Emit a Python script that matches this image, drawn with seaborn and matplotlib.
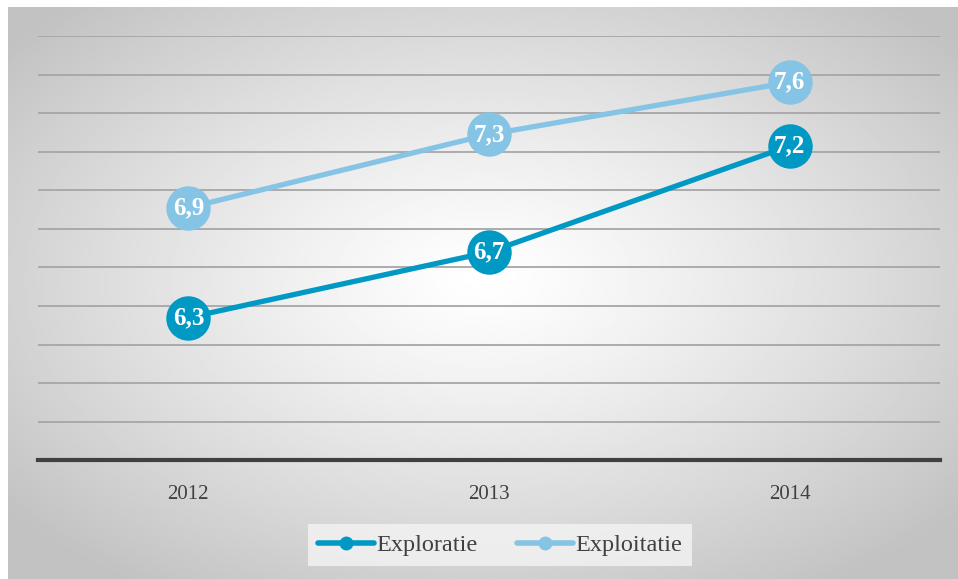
import matplotlib
matplotlib.use('Agg')
import matplotlib.pyplot as plt
from matplotlib.lines import Line2D
import numpy as np
import pandas as pd
import seaborn as sns

years = ['2012', '2013', '2014']
exploratie = [6.34, 6.68, 7.23]
exploitatie = [6.91, 7.29, 7.56]
series = ['Exploratie', 'Exploitatie']
colors = {'Exploratie': '#0099c4', 'Exploitatie': '#86c4e6'}

rows = []
for i, y in enumerate(years):
    rows.append([i, exploratie[i], 'Exploratie'])
    rows.append([i, exploitatie[i], 'Exploitatie'])
df = pd.DataFrame(rows, columns=['Jaar', 'Waarde', 'Reeks'])

sns.set_style('white')
plt.rcParams['font.family'] = ['Liberation Serif', 'DejaVu Serif']

fig = plt.figure(figsize=(9.58, 5.79), dpi=100)
fig.patch.set_facecolor('white')

# radial gray background
bg = fig.add_axes([8 / 958, 0, 950 / 958, 572 / 579], zorder=0)
gx, gy = np.meshgrid(np.linspace(-1, 1, 400), np.linspace(-1, 1, 300))
d = np.clip(np.sqrt(gx ** 2 + (gy + 0.05) ** 2) / 1.3, 0, 1)
shade = 1.0 - 0.24 * d ** 1.2
bg.imshow(shade, cmap='gray', vmin=0, vmax=1, aspect='auto', extent=[0, 1, 0, 1])
bg.axis('off')

ax = fig.add_axes([38 / 958, 118.7 / 579, 902 / 958, 424.3 / 579], zorder=1)
ax.patch.set_alpha(0)

sns.lineplot(data=df, x='Jaar', y='Waarde', hue='Reeks', palette=colors,
             linewidth=3.8, marker='o', markersize=32, markeredgewidth=0,
             legend=False, ax=ax, zorder=3)

for i in range(len(years)):
    for vals in (exploratie, exploitatie):
        ax.text(i, vals[i], f'{vals[i]:.1f}'.replace('.', ','), ha='center', va='center',
                color='white', fontsize=18, fontweight='bold', zorder=5)

ax.set_xlim(-0.5, 2.5)
ax.set_ylim(5.6, 7.8)
ax.set_yticks(np.arange(5.8, 7.81, 0.2))
ax.yaxis.grid(True, color='#a6a6a6', linewidth=1.3)
ax.set_yticklabels([])
ax.tick_params(axis='y', length=0)
ax.set_xticks(range(len(years)))
ax.set_xticklabels(years, fontsize=15, color='#404040')
ax.tick_params(axis='x', length=0, pad=18)
ax.set_xlabel('')
ax.set_ylabel('')
for s in ['top', 'left', 'right']:
    ax.spines[s].set_visible(False)
ax.spines['bottom'].set_color('#404040')
ax.spines['bottom'].set_linewidth(3)

handles = [Line2D([0], [0], color=colors[s], linewidth=4, marker='o', markersize=9,
                  solid_capstyle='round') for s in series]
leg = fig.legend(handles, series, loc='center', bbox_to_anchor=(500 / 958, 1 - 545 / 579),
                 ncol=2, frameon=True, fontsize=17.5, handlelength=2.3, handletextpad=0.12,
                 columnspacing=1.6, borderpad=0.4, fancybox=False)
leg.get_frame().set_facecolor('#f4f4f4')
leg.get_frame().set_edgecolor('none')
for t in leg.get_texts():
    t.set_color('#404040')

fig.savefig('out.png', dpi=100)
